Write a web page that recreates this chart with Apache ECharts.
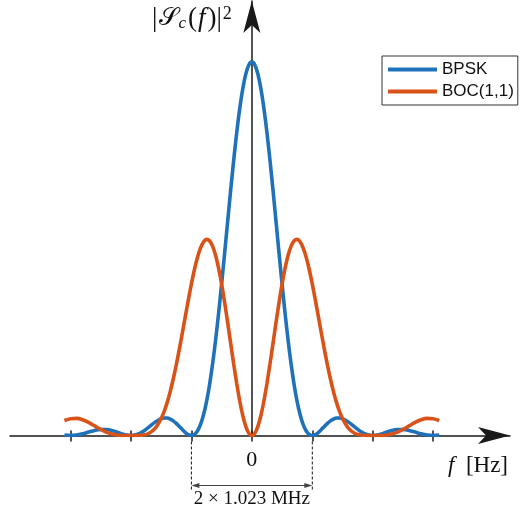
<!DOCTYPE html>
<html>
<head>
  <meta charset="UTF-8">
  <title></title>
  <script type="text/javascript" src="https://cdn.jsdelivr.net/npm/echarts@6/dist/echarts.min.js"></script>
  <style type="text/css">
    *{ margin: 0; padding: 0; }
    html, body{ width: 521px; height: 513px; background: #fff; }
    #main{ width: 521px; height: 513px; }
  </style>
</head>
<body>
  <div id="main"></div>
  <script type="text/javascript">
    // normalised frequency f / fc (denser near the main lobes)
    var freq = [-3.1,-3.0,-2.9,-2.8,-2.7,-2.6,-2.5,-2.4,-2.3,-2.2,-2.1,-2.0,-1.9,-1.8,-1.7,-1.6,-1.5,
                -1.45,-1.4,-1.35,-1.3,-1.25,-1.2,-1.15,-1.1,-1.05,-1.0,-0.95,-0.9,-0.85,-0.8,-0.75,-0.7,-0.65,-0.6,-0.55,
                -0.5,-0.45,-0.4,-0.35,-0.3,-0.25,-0.2,-0.15,-0.1,-0.05,
                0,
                0.05,0.1,0.15,0.2,0.25,0.3,0.35,0.4,0.45,0.5,
                0.55,0.6,0.65,0.7,0.75,0.8,0.85,0.9,0.95,1.0,1.05,1.1,1.15,1.2,1.25,1.3,1.35,1.4,1.45,
                1.5,1.6,1.7,1.8,1.9,2.0,2.1,2.2,2.3,2.4,2.5,2.6,2.7,2.8,2.9,3.0,3.1];
    var bpsk = [0.0010,0,0.0012,0.0045,0.0091,0.0136,0.0162,0.0159,0.0125,0.0072,0.0022,0,0.0027,0.0108,0.0230,0.0358,0.0450,
                0.0470,0.0468,0.0441,0.0392,0.0324,0.0243,0.0158,0.0080,0.0023,0,0.0028,0.0119,0.0289,0.0547,0.0901,0.1353,0.1904,0.2546,0.3268,
                0.4053,0.4881,0.5728,0.6566,0.7368,0.8106,0.8751,0.9281,0.9675,0.9918,
                1.0,
                0.9918,0.9675,0.9281,0.8751,0.8106,0.7368,0.6566,0.5728,0.4881,0.4053,
                0.3268,0.2546,0.1904,0.1353,0.0901,0.0547,0.0289,0.0119,0.0028,0,0.0023,0.0080,0.0158,0.0243,0.0324,0.0392,0.0441,0.0468,0.0470,
                0.0450,0.0358,0.0230,0.0108,0.0027,0,0.0022,0.0072,0.0125,0.0159,0.0162,0.0136,0.0091,0.0045,0.0012,0,0.0010];
    var boc = [0.0401,0.0450,0.0459,0.0423,0.0350,0.0257,0.0162,0.0084,0.0033,0.0008,0.0001,0,0.0001,0.0011,0.0060,0.0189,0.0450,
               0.0645,0.0886,0.1175,0.1512,0.1890,0.2303,0.2740,0.3188,0.3631,0.4053,0.4436,0.4762,0.5015,0.5181,0.5249,0.5213,0.5070,0.4823,0.4479,
               0.4053,0.3561,0.3024,0.2466,0.1913,0.1391,0.0924,0.0535,0.0243,0.0061,
               0,
               0.0061,0.0243,0.0535,0.0924,0.1391,0.1913,0.2466,0.3024,0.3561,0.4053,
               0.4479,0.4823,0.5070,0.5213,0.5249,0.5181,0.5015,0.4762,0.4436,0.4053,0.3631,0.3188,0.2740,0.2303,0.1890,0.1512,0.1175,0.0886,0.0645,
               0.0450,0.0189,0.0060,0.0011,0.0001,0,0.0001,0.0008,0.0033,0.0084,0.0162,0.0257,0.0350,0.0423,0.0459,0.0450,0.0401];
    var names = ['BPSK', 'BOC(1,1)'];
    var tickVals = [-3, -2, -1, 0, 1, 2, 3];
    var labelVals = [0];

    function pairs(ys){
      var out = [];
      for (var i = 0; i < freq.length; i++) out.push([freq[i], ys[i]]);
      return out;
    }

    var myChart = echarts.init(document.getElementById('main'));
    var axisCol = '#1a1a1a';
    var xBase = {
      type: 'value', min: -4, max: 4.27, position: 'bottom',
      splitLine: { show: false }
    };

    option = {
      animation: false,
      color: ['#1f72ba', '#d95319'],
      grid: { left: 10, right: 11, top: 1, bottom: 77.5 },
      legend: {
        orient: 'vertical', left: 382, top: 56,
        padding: [5, 4, 5, 6], itemGap: 5,
        itemWidth: 49, itemHeight: 4, icon: 'rect',
        borderColor: '#333', borderWidth: 1, borderRadius: 0,
        textStyle: { fontFamily: 'Liberation Sans', fontSize: 17, color: '#111' },
        data: names
      },
      xAxis: [
        Object.assign({}, xBase, {
          axisLine: { show: true, onZero: false, symbol: ['none', 'arrow'], symbolSize: [12.75, 32],
                      lineStyle: { color: axisCol, width: 1.5 } },
          axisTick: { show: true, inside: false, length: 6, customValues: tickVals, lineStyle: { color: axisCol, width: 1.5 } },
          axisLabel: { show: true, customValues: labelVals, margin: 14, fontFamily: 'Liberation Serif', fontSize: 22, color: '#111' }
        }),
        Object.assign({}, xBase, {
          axisLine: { show: false },
          axisTick: { show: true, inside: true, length: 5, customValues: tickVals, lineStyle: { color: axisCol, width: 1.5 } },
          axisLabel: { show: false }
        })
      ],
      yAxis: {
        type: 'value', min: 0, max: 1.163,
        axisLine: { show: true, onZero: true, symbol: ['none', 'arrow'], symbolSize: [12.75, 32],
                    lineStyle: { color: axisCol, width: 1.5 } },
        axisTick: { show: false }, axisLabel: { show: false }, splitLine: { show: false }
      },
      series: [
        { name: names[0], type: 'line', data: pairs(bpsk), smooth: 0.3, showSymbol: false, symbol: 'none',
          lineStyle: { width: 3.6 }, z: 3 },
        { name: names[1], type: 'line', data: pairs(boc), smooth: 0.3, showSymbol: false, symbol: 'none',
          lineStyle: { width: 3.6 }, z: 4 }
      ]
    };
    myChart.setOption(option);

    // annotations placed from the axis scale
    var o = myChart.convertToPixel({ gridIndex: 0 }, [0, 0]);
    var a = myChart.convertToPixel({ gridIndex: 0 }, [-1, 0]);
    var b = myChart.convertToPixel({ gridIndex: 0 }, [1, 0]);
    var yDim = o[1] + 50;
    var dimCol = '#444';
    myChart.setOption({
      graphic: [
        { type: 'line', shape: { x1: a[0], y1: o[1] + 6, x2: a[0], y2: o[1] + 55 },
          style: { stroke: '#111', lineWidth: 1, lineDash: [3, 2] } },
        { type: 'line', shape: { x1: b[0], y1: o[1] + 6, x2: b[0], y2: o[1] + 55 },
          style: { stroke: '#111', lineWidth: 1, lineDash: [3, 2] } },
        { type: 'line', shape: { x1: a[0] + 2, y1: yDim, x2: b[0] - 2, y2: yDim },
          style: { stroke: dimCol, lineWidth: 1.2 } },
        { type: 'polygon', shape: { points: [[a[0], yDim], [a[0] + 8, yDim - 2.5], [a[0] + 8, yDim + 2.5]] },
          style: { fill: dimCol } },
        { type: 'polygon', shape: { points: [[b[0], yDim], [b[0] - 8, yDim - 2.5], [b[0] - 8, yDim + 2.5]] },
          style: { fill: dimCol } },
        { type: 'text', x: (a[0] + b[0]) / 2, y: yDim + 4,
          style: { text: '2 \u00d7 1.023 MHz', fontFamily: 'Liberation Serif', fontSize: 19,
                   fill: '#111', align: 'center', verticalAlign: 'top' } },
        { type: 'text', x: o[0] - 20, y: 5,
          style: {
            text: '{n||}{s|\ud835\udcae}{sub|c}{n|(}{i|f}{n|)|}{sup|2}',
            align: 'right', verticalAlign: 'top',
            rich: {
              n: { fontFamily: 'Liberation Serif', fontSize: 27, fill: '#111' },
              s: { fontFamily: 'DejaVu Serif, DejaVu Sans, Liberation Serif', fontSize: 25, fill: '#111', padding: [0, 0, 0, 2] },
              i: { fontFamily: 'Liberation Serif', fontStyle: 'italic', fontSize: 27, fill: '#111', padding: [0, 2, 0, 1] },
              sub: { fontFamily: 'Liberation Serif', fontStyle: 'italic', fontSize: 17, fill: '#111', verticalAlign: 'bottom', padding: [0, 2, 0, 0] },
              sup: { fontFamily: 'Liberation Serif', fontSize: 18, fill: '#111', verticalAlign: 'top', padding: [0, 0, 0, 1] }
            }
          } },
        { type: 'text', x: 448, y: o[1] + 19,
          style: {
            text: '{i|f}{n|\u2002[Hz]}',
            rich: {
              i: { fontFamily: 'Liberation Serif', fontStyle: 'italic', fontSize: 23, fill: '#111' },
              n: { fontFamily: 'Liberation Serif', fontSize: 23, fill: '#111' }
            }
          } }
      ]
    });
  </script>
</body>
</html>
